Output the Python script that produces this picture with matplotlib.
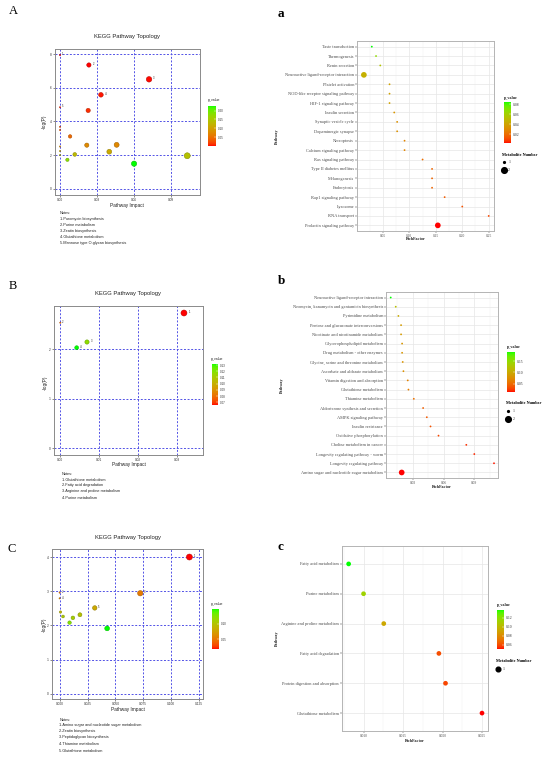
import numpy as np
import matplotlib
matplotlib.use("Agg")
import matplotlib.pyplot as plt
from matplotlib.colors import ListedColormap, Normalize
from matplotlib.cm import ScalarMappable
from matplotlib.lines import Line2D

# ============================ DATA ============================
# ---- Panel A : KEGG pathway topology ----
A_impact = [0.0235, 0.0725, 0.0333, 0.0229, 0.0082, 0.0218, 0.0461, 0.0401, 0.0120,
            0.0060, 0.0603, 0.1036, 0.0, 0.0, 0.0, 0.0, 0.0, 0.0, 0.0]
A_neglogp = [7.35, 6.50, 5.58, 4.65, 3.11, 2.59, 2.61, 2.20, 2.04,
             1.72, 1.49, 1.96, 7.94, 4.84, 3.68, 3.49, 2.51, 2.24, 2.00]
A_tags = ["2", "3", "4", "", "", "", "", "", "", "", "", "", "1", "5", "", "", "", "", ""]
A_notes = ["Notes:", "1.Puromycin biosynthesis", "2.Purine metabolism", "3.Zeatin biosynthesis",
           "4.Glutathione metabolism", "5.Mannose type O-glycan biosynthesis"]
A_xticks = [0.00, 0.03, 0.06, 0.09]
A_xticklabels = ["0.00", "0.03", "0.06", "0.09"]
A_yticks = [0, 2, 4, 6, 8]
A_cbar_ticks = [0.05, 0.10, 0.15, 0.20]

# ---- Panel B ----
B_impact = [0.0317, 0.0, 0.00684, 0.00419]
B_neglogp = [2.725, 2.53, 2.141, 2.027]
B_tags = ["1", "2", "3", "4"]
B_notes = ["Notes:", "1.Glutathione metabolism", "2.Fatty acid degradation",
           "3.Arginine and proline metabolism", "4.Purine metabolism"]
B_xticks = [0.00, 0.01, 0.02, 0.03]
B_xticklabels = ["0.00", "0.01", "0.02", "0.03"]
B_yticks = [0, 1, 2]
B_cbar_ticks = [0.07, 0.08, 0.09, 0.10, 0.11, 0.12, 0.13]

# ---- Panel C ----
C_impact = [0.1164, 0.0, 0.0723, 0.0, 0.0315, 0.0426, 0.0182, 0.0119, 0.0089, 0.0030, 0.0008]
C_neglogp = [4.00, 2.96, 2.94, 2.79, 2.51, 1.91, 2.31, 2.22, 2.08, 2.26, 2.39]
C_tags = ["1", "2", "3", "4", "5", "", "", "", "", "", ""]
C_notes = ["Notes:", "1.Amino sugar and nucleotide sugar metabolism", "2.Zeatin biosynthesis",
           "3.Peptidoglycan biosynthesis", "4.Thiamine metabolism", "5.Glutathione metabolism"]
C_xticks = [0.000, 0.025, 0.050, 0.075, 0.100, 0.125]
C_xticklabels = ["0.000", "0.025", "0.050", "0.075", "0.100", "0.125"]
C_yticks = [0, 1, 2, 3, 4]
C_cbar_ticks = [0.05, 0.10]

# ---- Panel a : KEGG enrichment ----
a_pathways = ["Taste transduction", "Thermogenesis", "Renin secretion",
              "Neuroactive ligand-receptor interaction", "Platelet activation",
              "NOD-like receptor signaling pathway", "HIF-1 signaling pathway",
              "Insulin secretion", "Synaptic vesicle cycle", "Dopaminergic synapse",
              "Necroptosis", "Calcium signaling pathway", "Ras signaling pathway",
              "Type II diabetes mellitus", "Melanogenesis", "Endocytosis",
              "Rap1 signaling pathway", "Lysosome", "RNA transport",
              "Prolactin signaling pathway"]
a_richfactor = [0.029, 0.037, 0.045, 0.014, 0.0625, 0.0625, 0.0625, 0.0714, 0.0769, 0.0769,
                0.0909, 0.0909, 0.125, 0.1429, 0.1429, 0.1429, 0.1667, 0.200, 0.250, 0.1538]
a_pvalue = [0.084, 0.066, 0.054, 0.045, 0.039, 0.039, 0.039, 0.034, 0.032, 0.032,
            0.027, 0.027, 0.0195, 0.017, 0.017, 0.017, 0.0146, 0.0122, 0.0098, 0.002]
a_count = [1, 1, 1, 2, 1, 1, 1, 1, 1, 1, 1, 1, 1, 1, 1, 1, 1, 1, 1, 2]
a_xticks = [0.05, 0.10, 0.15, 0.20, 0.25]
a_xticklabels = ["0.05", "0.10", "0.15", "0.20", "0.25"]
a_cbar_ticks = [0.02, 0.04, 0.06, 0.08]

# ---- Panel b ----
b_pathways = ["Neuroactive ligand-receptor interaction",
              "Neomycin, kanamycin and gentamicin biosynthesis", "Pyrimidine metabolism",
              "Pentose and glucuronate interconversions", "Nicotinate and nicotinamide metabolism",
              "Glycerophospholipid metabolism", "Drug metabolism - other enzymes",
              "Glycine, serine and threonine metabolism", "Ascorbate and aldarate metabolism",
              "Vitamin digestion and absorption", "Glutathione metabolism", "Thiamine metabolism",
              "Aldosterone synthesis and secretion", "AMPK signaling pathway", "Insulin resistance",
              "Oxidative phosphorylation", "Choline metabolism in cancer",
              "Longevity regulating pathway - worm", "Longevity regulating pathway",
              "Amino sugar and nucleotide sugar metabolism"]
b_richfactor = [0.0085, 0.0134, 0.0160, 0.0186, 0.0186, 0.0196, 0.0196, 0.0202, 0.0209, 0.0251,
                0.0258, 0.0310, 0.0401, 0.0437, 0.0473, 0.0551, 0.0822, 0.0900, 0.1092, 0.0192]
b_pvalue = [0.190, 0.120, 0.101, 0.088, 0.087, 0.083, 0.083, 0.081, 0.078, 0.066,
            0.064, 0.054, 0.043, 0.039, 0.036, 0.031, 0.022, 0.020, 0.017, 0.014]
b_count = [1] * 19 + [2]
b_xticks = [0.03, 0.06, 0.09]
b_xticklabels = ["0.03", "0.06", "0.09"]
b_cbar_ticks = [0.05, 0.10, 0.15]

# ---- Panel c ----
c_pathways = ["Fatty acid metabolism", "Purine metabolism", "Arginine and proline metabolism",
              "Fatty acid degradation", "Protein digestion and absorption", "Glutathione metabolism"]
c_richfactor = [0.00811, 0.0100, 0.01256, 0.01954, 0.02038, 0.0250]
c_pvalue = [0.137, 0.113, 0.092, 0.060, 0.058, 0.0505]
c_count = [1, 1, 1, 1, 1, 1]
c_xticks = [0.010, 0.015, 0.020, 0.025]
c_xticklabels = ["0.010", "0.015", "0.020", "0.025"]
c_cbar_ticks = [0.06, 0.08, 0.10, 0.12]

# ============================ STYLE ============================
W, H = 550, 760
SANS = "Liberation Sans"
SERIF = "Liberation Serif"
fig = plt.figure(figsize=(W / 100, H / 100), dpi=100)
fig.patch.set_facecolor("white")


def rect(l, t, r, b):
    return [l / W, 1 - b / H, (r - l) / W, (b - t) / H]


def ftext(x, y, s, **kw):
    kw.setdefault("va", "center")
    return fig.text(x / W, 1 - y / H, s, **kw)


# ggplot-like red -> green gradient interpolated in CIE Lab
_M = np.array([[0.4124564, 0.3575761, 0.1804375],
               [0.2126729, 0.7151522, 0.0721750],
               [0.0193339, 0.1191920, 0.9503041]])
_WP = np.array([0.95047, 1.0, 1.08883])


def srgb_to_lab(c):
    c = np.asarray(c, float)
    lin = np.where(c <= 0.04045, c / 12.92, ((c + 0.055) / 1.055) ** 2.4)
    t = (_M @ lin) / _WP
    d = 6 / 29
    f = np.where(t > d ** 3, np.cbrt(t), t / (3 * d * d) + 4 / 29)
    return np.array([116 * f[1] - 16, 500 * (f[0] - f[1]), 200 * (f[1] - f[2])])


def lab_to_srgb(lab):
    L, a, b = lab
    fy = (L + 16) / 116
    f = np.array([fy + a / 500, fy, fy - b / 200])
    d = 6 / 29
    t = np.where(f > d, f ** 3, 3 * d * d * (f - 4 / 29))
    lin = np.linalg.solve(_M, t * _WP)
    lin = np.clip(lin, 0, 1)
    c = np.where(lin <= 0.0031308, 12.92 * lin, 1.055 * lin ** (1 / 2.4) - 0.055)
    return np.clip(c, 0, 1)


_l0 = srgb_to_lab([1, 0, 0])
_l1 = srgb_to_lab([0, 1, 0])
cmap = ListedColormap([lab_to_srgb(_l0 + (_l1 - _l0) * t) for t in np.linspace(0, 1, 256)])


def add_colorbar(rpx, vmin, vmax, ticks, family, title_xy, title_bold, fs):
    cax = fig.add_axes(rect(*rpx))
    sm = ScalarMappable(Normalize(vmin, vmax), cmap)
    cb = fig.colorbar(sm, cax=cax, ticks=ticks)
    cb.outline.set_visible(False)
    cb.ax.set_yticklabels(["%.2f" % t for t in ticks])
    cax.tick_params(labelsize=fs, length=1.2, width=0.3, color="white", direction="in", pad=1.2,
                    labelcolor="#333333")
    for lab in cax.get_yticklabels():
        lab.set_family(family)
    ftext(title_xy[0], title_xy[1], "p_value", fontsize=fs + 0.3, family=family,
          fontweight="bold" if title_bold else "normal", ha="left", color="#222222")


# ============================ TOPOLOGY PANELS ============================
def topology(rpx, impact, nlp, tags, xticks, xticklabels, yticks, xlim, ylim,
             cbar_rect, cbar_ticks, cbar_title, title_xy, xlab_xy, ylab_xy, notes, notes_x, notes_y):
    ax = fig.add_axes(rect(*rpx))
    impact = np.asarray(impact, float)
    nlp = np.asarray(nlp, float)
    p = np.exp(-nlp)
    norm = Normalize(p.min(), p.max())
    cols = cmap(norm(p))
    edge = cols.copy()
    edge[:, :3] *= 0.72
    d = 1.3 + 4.7 * (impact / impact.max()) ** 0.3
    d[impact == 0] = 1.3
    s = (d * 0.72) ** 2
    order = np.argsort(-d)
    ax.scatter(impact[order], nlp[order], s=s[order], c=cols[order], edgecolors=edge[order],
               linewidths=0.35, zorder=3)
    for xi, yi, di, tg in zip(impact, nlp, d, tags):
        if tg:
            ax.annotate(tg, (xi, yi), xytext=(di * 0.36 + 1.0, 0.6), textcoords="offset points",
                        fontsize=1.9, family=SANS, va="center", ha="left", color="#222222", zorder=4)
    ax.set_xlim(*xlim)
    ax.set_ylim(*ylim)
    ax.set_xticks(xticks)
    ax.set_xticklabels(xticklabels)
    ax.set_yticks(yticks)
    ax.grid(True, color="#5252e6", linestyle=(0, (2.0, 1.7)), linewidth=0.7)
    ax.set_axisbelow(True)
    for sp in ax.spines.values():
        sp.set_color("#8a8a8a")
        sp.set_linewidth(0.7)
    ax.tick_params(labelsize=2.3, length=1.3, width=0.4, pad=1.2, colors="#333333")
    for lab in ax.get_xticklabels() + ax.get_yticklabels():
        lab.set_family(SANS)
    add_colorbar(cbar_rect, p.min(), p.max(), cbar_ticks, SANS, cbar_title, False, 2.2)
    ftext(title_xy[0], title_xy[1], "KEGG Pathway Topology", fontsize=4.2, family=SANS,
          ha="center", color="#222222")
    ftext(xlab_xy[0], xlab_xy[1], "Pathway Impact", fontsize=3.4, family=SANS, ha="center",
          color="#222222")
    ftext(ylab_xy[0], ylab_xy[1], "-log(P)", fontsize=3.4, family=SANS, ha="center",
          rotation=90, color="#222222")
    for line, yy in zip(notes, notes_y):
        ftext(notes_x, yy, line, fontsize=2.8, family=SANS, ha="left", color="#222222")


topology((55, 49, 200, 195), A_impact, A_neglogp, A_tags, A_xticks, A_xticklabels, A_yticks,
         (-0.0041, 0.114), (-0.37, 8.3), (208, 106, 216, 146), A_cbar_ticks, (207.5, 100.5),
         (127, 36.7), (127, 205), (44.3, 121.7), A_notes, 60,
         [213.3, 219.2, 225.2, 231.2, 237.3, 243.3])

topology((54, 306, 203, 455), B_impact, B_neglogp, B_tags, B_xticks, B_xticklabels, B_yticks,
         (-0.00162, 0.03658), (-0.134, 2.866), (212, 364, 218, 405), B_cbar_ticks, (211, 359),
         (128.3, 293.3), (128.7, 465), (45, 383), B_notes, 61.7,
         [474.3, 479.8, 485.4, 491.0, 497.7])

topology((52, 549, 203, 699), C_impact, C_neglogp, C_tags, C_xticks, C_xticklabels, C_yticks,
         (-0.00685, 0.1286), (-0.156, 4.235), (212, 609, 219, 649), C_cbar_ticks, (211, 604),
         (127.7, 537.3), (127.7, 709.7), (44.3, 625), C_notes, 59.3,
         [720, 725.3, 731.3, 737.3, 744, 750.7])


# ============================ ENRICHMENT PANELS ============================
def enrichment(rpx, names, rf, pv, cnt, xticks, xticklabels, xlim, cbar_rect, cbar_ticks,
               cbar_title, leg_xy, xlab_xy, ylab_xy):
    ax = fig.add_axes(rect(*rpx))
    n = len(names)
    ypos = np.arange(n, 0, -1)
    rf = np.asarray(rf, float)
    pv = np.asarray(pv, float)
    cnt = np.asarray(cnt, float)
    norm = Normalize(pv.min(), pv.max())
    cols = cmap(norm(pv))
    if cnt.max() > cnt.min():
        d = 1.8 + (5.7 - 1.8) * (cnt - cnt.min()) / (cnt.max() - cnt.min())
    else:
        d = np.full(n, 4.7)
    ax.scatter(rf, ypos, s=(d * 0.72) ** 2, c=cols, linewidths=0, zorder=3)
    ax.set_xlim(*xlim)
    ax.set_ylim(0.4, n + 0.6)
    ax.set_yticks(ypos)
    ax.set_yticklabels(names)
    ax.set_xticks(xticks)
    ax.set_xticklabels(xticklabels)
    step = xticks[1] - xticks[0]
    minors = np.arange(xticks[0] - step / 2, xlim[1], step)
    ax.set_xticks([m for m in minors if xlim[0] < m < xlim[1]], minor=True)
    ax.grid(True, which="major", color="#e6e6e6", linewidth=0.5)
    ax.grid(True, which="minor", axis="x", color="#f0f0f0", linewidth=0.3)
    ax.set_axisbelow(True)
    for sp in ax.spines.values():
        sp.set_color("#b4b4b4")
        sp.set_linewidth(0.7)
    ax.tick_params(which="major", length=1.3, width=0.35, color="#444444", pad=0.8,
                   labelcolor="#4d4d4d")
    ax.tick_params(which="minor", length=0)
    ax.tick_params(axis="y", labelsize=3.2)
    ax.tick_params(axis="x", labelsize=2.6)
    for lab in ax.get_xticklabels() + ax.get_yticklabels():
        lab.set_family(SERIF)
    add_colorbar(cbar_rect, pv.min(), pv.max(), cbar_ticks, SERIF, cbar_title, True, 2.7)
    ftext(xlab_xy[0], xlab_xy[1], "RichFactor", fontsize=3.0, family=SERIF, fontweight="bold",
          ha="center", color="#222222")
    ftext(ylab_xy[0], ylab_xy[1], "Pathway", fontsize=3.0, family=SERIF, fontweight="bold",
          ha="center", rotation=90, color="#222222")
    levels = sorted(set(int(c) for c in cnt))
    handles = []
    for lv in levels:
        if cnt.max() > cnt.min():
            dd = 1.8 + (5.7 - 1.8) * (lv - cnt.min()) / (cnt.max() - cnt.min())
        else:
            dd = 4.7
        handles.append(Line2D([], [], marker="o", linestyle="", color="black",
                              markersize=dd * 0.72, label=str(lv)))
    leg = ax.legend(handles=handles, title="Metabolite Number", loc="upper left",
                    bbox_to_anchor=(leg_xy[0] / W, 1 - leg_xy[1] / H),
                    bbox_transform=fig.transFigure, frameon=False, borderpad=0,
                    borderaxespad=0, handlelength=1.0, handletextpad=0.6, labelspacing=1.0,
                    prop={"family": SERIF, "size": 2.8},
                    title_fontproperties={"family": SERIF, "size": 3.1, "weight": "bold"},
                    alignment="left")
    for t in leg.get_texts():
        t.set_color("#333333")


enrichment((357, 41, 494, 231), a_pathways, a_richfactor, a_pvalue, a_count, a_xticks,
           a_xticklabels, (0.001, 0.26), (504, 102, 511, 143), a_cbar_ticks, (503.5, 97.7),
           (502, 152.5), (416, 239), (277, 136))

enrichment((386, 292, 498, 478), b_pathways, b_richfactor, b_pvalue, b_count, b_xticks,
           b_xticklabels, (0.0039, 0.1131), (507, 352, 515, 392), b_cbar_ticks, (507, 346.7),
           (506.5, 401.5), (441.7, 486.7), (282, 385))

enrichment((342, 546, 488, 731), c_pathways, c_richfactor, c_pvalue, c_count, c_xticks,
           c_xticklabels, (0.00727, 0.02576), (497, 610, 504, 649), c_cbar_ticks, (497, 604.7),
           (496, 659), (415, 741), (276.5, 638))

# ============================ PANEL LETTERS ============================
ftext(13.3, 11.2, "A", fontsize=9, family=SERIF, ha="center")
ftext(13.0, 286.0, "B", fontsize=9, family=SERIF, ha="center")
ftext(11.5, 548.5, "C", fontsize=9, family=SERIF, ha="center")
ftext(280.5, 14.2, "a", fontsize=9.5, family=SERIF, fontweight="bold", ha="center")
ftext(281.7, 281.0, "b", fontsize=9.5, family=SERIF, fontweight="bold", ha="center")
ftext(280.0, 547.2, "c", fontsize=9.5, family=SERIF, fontweight="bold", ha="center")

fig.savefig("out.png", dpi=100, facecolor="white")
